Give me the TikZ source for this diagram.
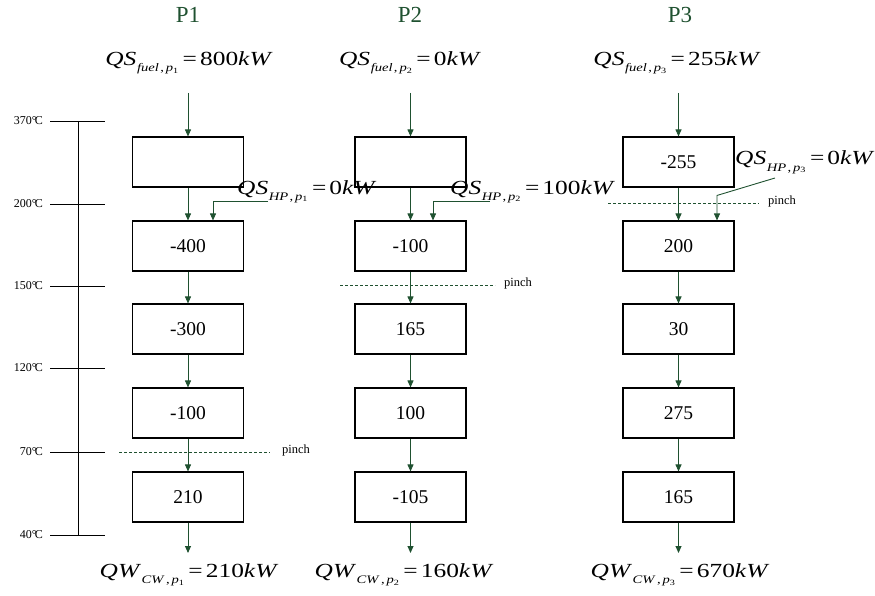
\documentclass[tikz,border=0pt]{standalone}
\usepackage{fontspec}
\usepackage{graphicx}
\setmainfont{Liberation Serif}
\usetikzlibrary{arrows.meta}
\definecolor{dg}{HTML}{1F5130}
\newcommand{\qeq}[4]{\scalebox{1.27}[1]{\fontsize{20}{20}\selectfont\textit{Q#1}\kern0.5pt\raisebox{-6pt}{\fontsize{11.5}{11.5}\selectfont\textit{#2}\kern1pt,\kern1.5pt\textit{p}\raisebox{-2pt}{\fontsize{8}{8}\selectfont #3}}\kern3.5pt=\kern2.5pt#4\textit{kW}}}
\newcommand{\degc}[1]{#1\kern0.2pt°\kern-2pt C}
\begin{document}
\begin{tikzpicture}[x=1pt,y=-1pt,
  blk/.style={draw=black,line width=1.1pt,minimum width=111pt,minimum height=50pt,inner sep=0pt,font=\fontsize{19.5}{19.5}\selectfont},
  flow/.style={draw=dg,line width=0.9pt,-{Triangle[length=7pt,width=6pt]}},
  pinchline/.style={draw=dg,dash pattern=on 3pt off 2pt,line width=0.7pt},
  pinchlbl/.style={anchor=west,inner sep=0pt,font=\fontsize{12.5}{12.5}\selectfont},
  ttl/.style={text=dg,font=\fontsize{23}{23}\selectfont,inner sep=0pt},
  eqn/.style={inner sep=0pt,anchor=base},
  eqw/.style={inner sep=0pt,anchor=base west},
  scl/.style={draw=black,line width=0.9pt},
  tlbl/.style={anchor=east,inner sep=0pt,font=\fontsize{12}{12}\selectfont}
]
\useasboundingbox (0,0) rectangle (875,596);

% titles
\node[ttl] (T1) at (188,15) {P1};
\node[ttl] (T2) at (410,15) {P2};
\node[ttl] (T3) at (680,15) {P3};

% temperature scale
\draw[scl] (78,121) -- (78,535);
\foreach \yy/\tt in {121/370,204/200,286/150,368/120,452/70,535/40}{
  \draw[scl] (50,\yy) -- (105,\yy);
  \node[tlbl] at (43,\yy) {\degc{\tt}};
}

% boxes P1
\node[blk] (a1) at (188,162) {};
\node[blk] (a2) at (188,246) {-400};
\node[blk] (a3) at (188,329) {-300};
\node[blk] (a4) at (188,413) {-100};
\node[blk] (a5) at (188,497) {210};
% boxes P2
\node[blk] (b1) at (410.5,162) {};
\node[blk] (b2) at (410.5,246) {-100};
\node[blk] (b3) at (410.5,329) {165};
\node[blk] (b4) at (410.5,413) {100};
\node[blk] (b5) at (410.5,497) {-105};
% boxes P3
\node[blk] (c1) at (678.5,162) {-255};
\node[blk] (c2) at (678.5,246) {200};
\node[blk] (c3) at (678.5,329) {30};
\node[blk] (c4) at (678.5,413) {275};
\node[blk] (c5) at (678.5,497) {165};

% fuel labels
\node[eqn] (fa) at (189,66) {\qeq{S}{fuel}{1}{800}};
\node[eqn] (fb) at (410,66) {\qeq{S}{fuel}{2}{0}};
\node[eqn] (fc) at (677,66) {\qeq{S}{fuel}{3}{255}};
% CW labels
\node[eqn] (wa) at (189,577) {\qeq{W}{CW}{1}{210}};
\node[eqn] (wb) at (404,577) {\qeq{W}{CW}{2}{160}};
\node[eqn] (wc) at (680,577) {\qeq{W}{CW}{3}{670}};
% HP labels
\node[eqw] (ha) at (237,194) {\qeq{S}{HP}{1}{0}};
\node[eqw] (hb) at (450,194) {\qeq{S}{HP}{2}{100}};
\node[eqw] (hc) at (735,165) {\qeq{S}{HP}{3}{0}};

% arrow ends
\coordinate (ta) at (188,93);
\coordinate (tb) at (410.5,93);
\coordinate (tc) at (678.5,93);
\coordinate (ea) at (188,553);
\coordinate (eb) at (410.5,553);
\coordinate (ec) at (678.5,553);
\coordinate (ka) at (268,201);
\coordinate (kb) at (490,201);
\coordinate (kc) at (775,178);

% flows P1
\draw[flow] (ta) -- (a1.north);
\draw[flow] (a1.south) -- (a2.north);
\draw[flow] (a2.south) -- (a3.north);
\draw[flow] (a3.south) -- (a4.north);
\draw[flow] (a4.south) -- (a5.north);
\draw[flow] (a5.south) -- (ea);
% flows P2
\draw[flow] (tb) -- (b1.north);
\draw[flow] (b1.south) -- (b2.north);
\draw[flow] (b2.south) -- (b3.north);
\draw[flow] (b3.south) -- (b4.north);
\draw[flow] (b4.south) -- (b5.north);
\draw[flow] (b5.south) -- (eb);
% flows P3
\draw[flow] (tc) -- (c1.north);
\draw[flow] (c1.south) -- (c2.north);
\draw[flow] (c2.south) -- (c3.north);
\draw[flow] (c3.south) -- (c4.north);
\draw[flow] (c4.south) -- (c5.north);
\draw[flow] (c5.south) -- (ec);

% HP connectors
\draw[flow] (ka) -| ([xshift=25pt]a2.north);
\draw[flow] (kb) -| ([xshift=22.5pt]b2.north);
\draw[flow] (kc) -- ([xshift=38.5pt,yshift=25pt]c2.north) -- ([xshift=38.5pt]c2.north);

% pinch lines
\draw[pinchline] (119,452) -- (270,452);
\node[pinchlbl] (pa) at (282,450) {pinch};
\draw[pinchline] (340,285) -- (495,285);
\node[pinchlbl] (pb) at (504,283) {pinch};
\draw[pinchline] (608,203) -- (759,203);
\node[pinchlbl] (pc) at (768,201) {pinch};
\end{tikzpicture}
\end{document}
